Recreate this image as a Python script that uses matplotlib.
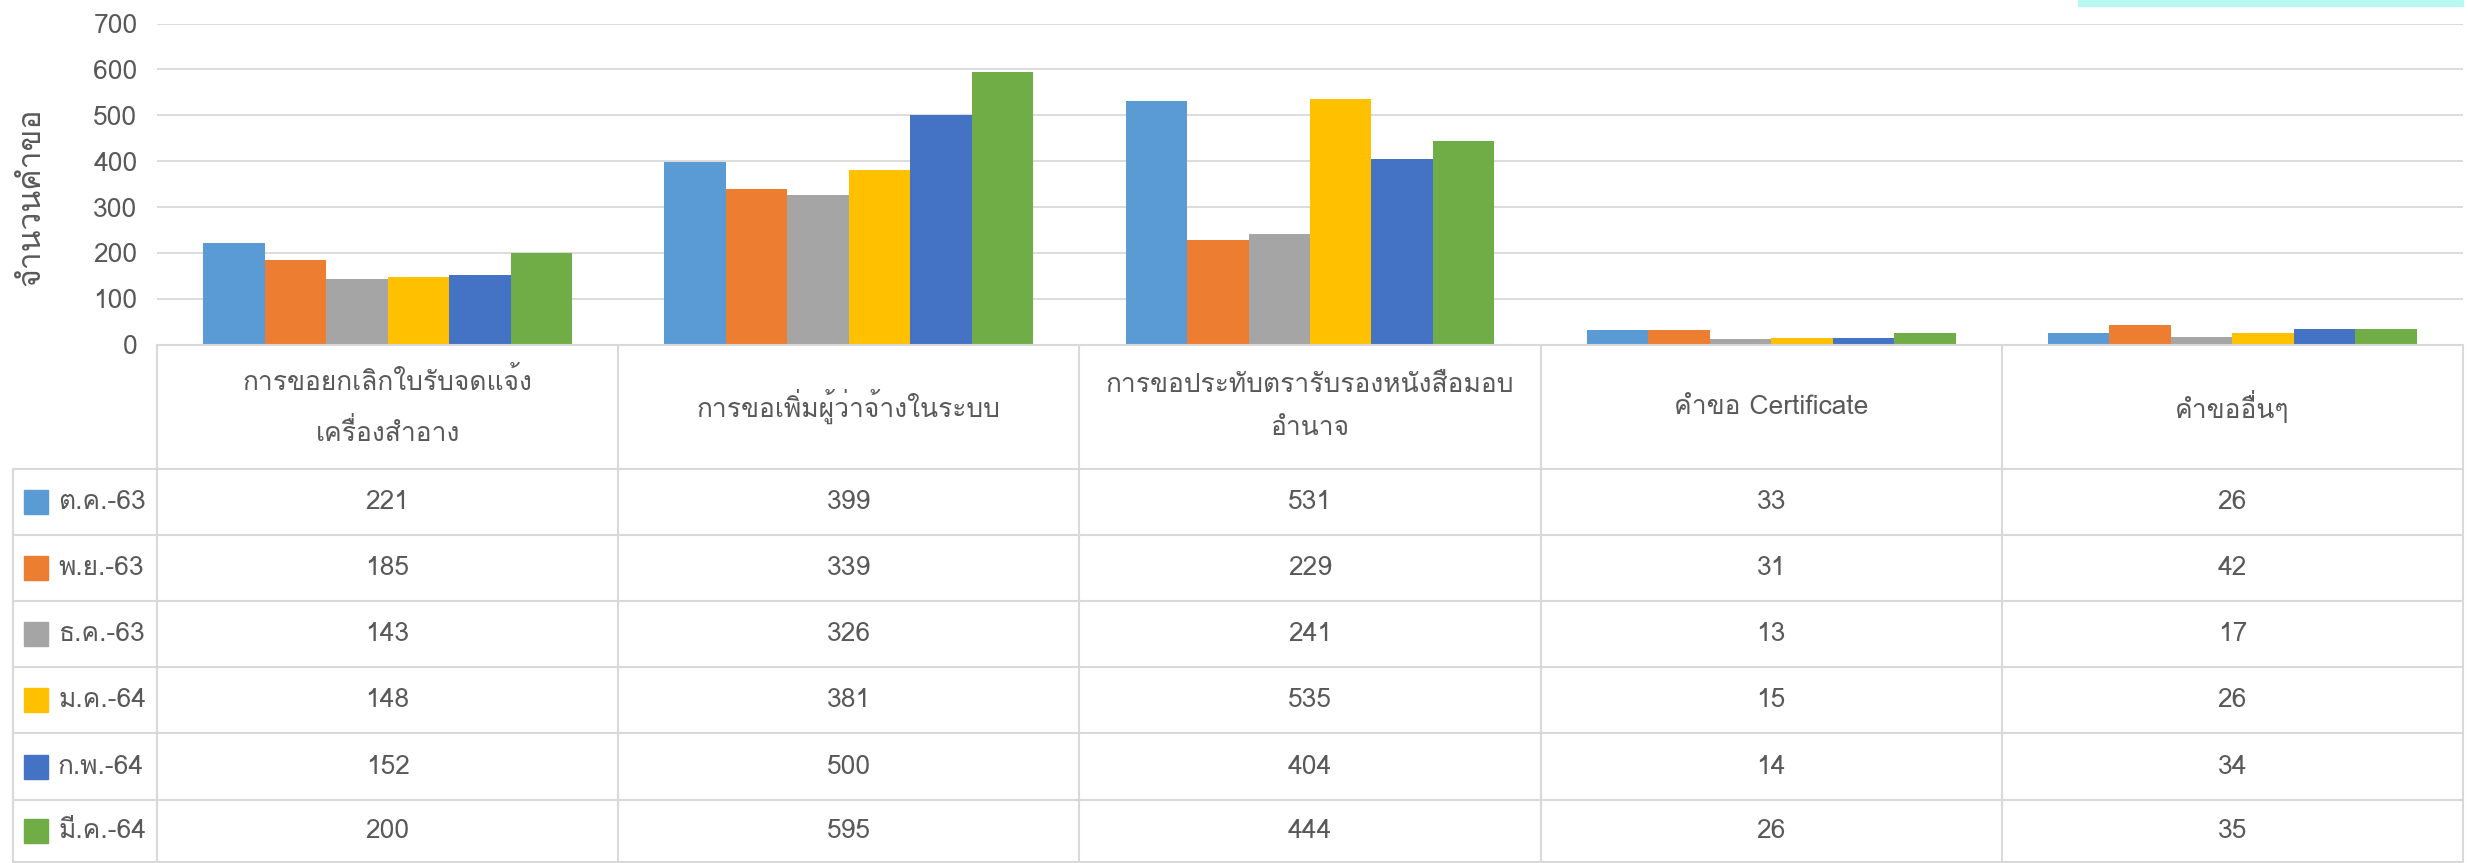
import numpy as np
import matplotlib
matplotlib.use('Agg')
import matplotlib.pyplot as plt
from matplotlib import font_manager
from matplotlib.ft2font import FT2Font
from matplotlib.patches import Rectangle

# หมวดคำขอ
categories = ['การขอยกเลิกใบรับจดแจ้ง\nเครื่องสำอาง',
              'การขอเพิ่มผู้ว่าจ้างในระบบ',
              'การขอประทับตรารับรองหนังสือมอบ\nอำนาจ',
              'คำขอ Certificate',
              'คำขออื่นๆ']
months = ['ต.ค.-63', 'พ.ย.-63', 'ธ.ค.-63', 'ม.ค.-64', 'ก.พ.-64', 'มี.ค.-64']
oct63 = [221, 399, 531, 33, 26]
nov63 = [185, 339, 229, 31, 42]
dec63 = [143, 326, 241, 13, 17]
jan64 = [148, 381, 535, 15, 26]
feb64 = [152, 500, 404, 14, 34]
mar64 = [200, 595, 444, 26, 35]
series = [oct63, nov63, dec63, jan64, feb64, mar64]
colors = ['#5B9BD5', '#ED7D31', '#A5A5A5', '#FFC000', '#4472C4', '#70AD47']
ylabel = 'จำนวนคำขอ'


# find a font that has Thai glyphs
def thai_fonts():
    found = []
    for f in font_manager.fontManager.ttflist:
        try:
            if 0x0E01 in FT2Font(f.fname).get_charmap():
                if f.name not in found:
                    found.append(f.name)
        except Exception:
            pass
    return found


tf = thai_fonts()
plt.rcParams['font.family'] = tf[:1] + ['DejaVu Sans']

W, H = 2468, 863
fig = plt.figure(figsize=(W / 100, H / 100), dpi=100)
txt = '#595959'
grid = '#D9D9D9'

x0, x1 = 157, 2463
ytop, ybot = 23.6, 344.7
ax = fig.add_axes([x0 / W, 1 - ybot / H, (x1 - x0) / W, (ybot - ytop) / H])
x = np.arange(len(categories))
bw = 0.8 / len(series)
for i, (vals, c) in enumerate(zip(series, colors)):
    ax.bar(x - 0.4 + bw * (i + 0.5), vals, bw, color=c, zorder=3)
ax.set_xlim(-0.5, len(categories) - 0.5)
ax.set_ylim(0, 700)
ax.set_yticks(range(0, 701, 100))
ax.yaxis.grid(True, color=grid, lw=1.3, zorder=0)
ax.set_xticks([])
for s in ax.spines.values():
    s.set_visible(False)
ax.tick_params(axis='y', length=0, labelsize=19, labelcolor=txt, pad=14)
ax.set_ylabel(ylabel, fontsize=23, color=txt)
ax.yaxis.set_label_coords(-0.048, 0.46)

# data table drawn in pixel space
tb = fig.add_axes([0, 0, 1, 1])
tb.set_xlim(0, W)
tb.set_ylim(H, 0)
tb.axis('off')
colx = np.linspace(x0, x1, len(categories) + 1)
rows = [469, 535, 601, 667, 733, 800, 862]
lk = dict(color=grid, lw=1.5)
tb.plot([x0, x1], [ybot, ybot], **lk)
for r in rows:
    tb.plot([12.6, x1], [r, r], **lk)
for cx in colx:
    tb.plot([cx, cx], [ybot, rows[-1]], **lk)
tb.plot([12.6, 12.6], [rows[0], rows[-1]], **lk)

for j, cat in enumerate(categories):
    tb.text((colx[j] + colx[j + 1]) / 2, (ybot + rows[0]) / 2, cat,
            ha='center', va='center', fontsize=19, color=txt, linespacing=2.0)
for i, (m, vals, c) in enumerate(zip(months, series, colors)):
    yc = (rows[i] + rows[i + 1]) / 2
    tb.add_patch(Rectangle((24, yc - 12), 24, 24, color=c))
    tb.text(58, yc, m, ha='left', va='center', fontsize=19, color=txt)
    for j, v in enumerate(vals):
        tb.text((colx[j] + colx[j + 1]) / 2, yc, str(v),
                ha='center', va='center', fontsize=19, color=txt)

# cut-off shape at top right
tb.add_patch(Rectangle((2078, 0), 385, 6, color='#B8F8F0'))

fig.savefig('out.png', dpi=100)
